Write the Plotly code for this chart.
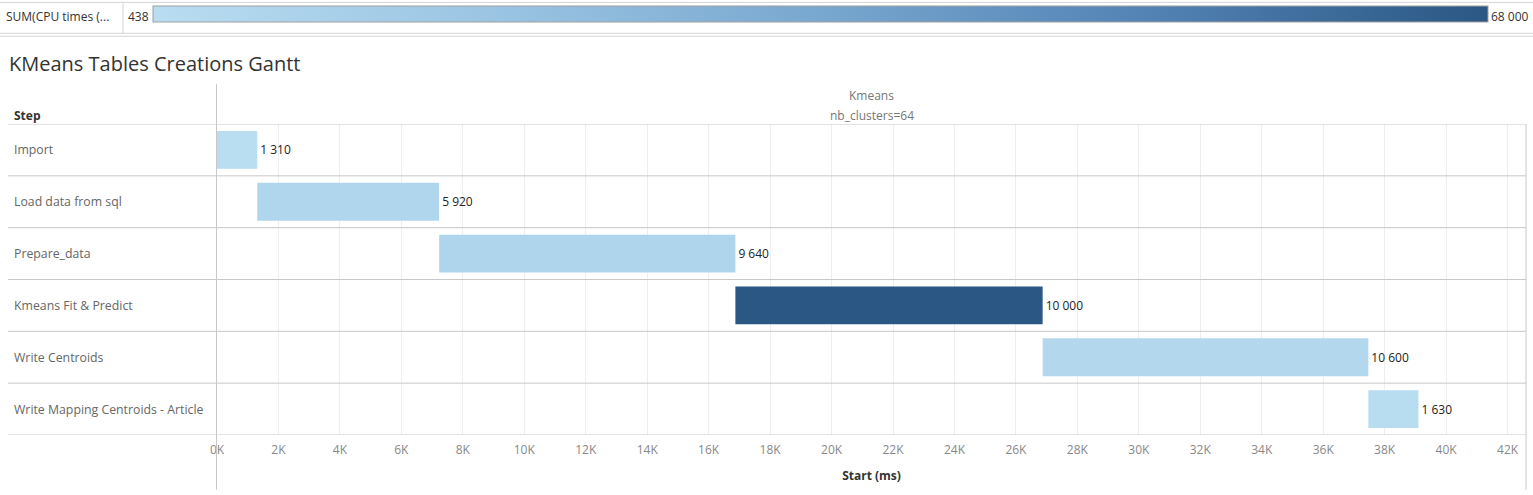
import plotly.graph_objects as go

steps = ["Import", "Load data from sql", "Prepare_data", "Kmeans Fit & Predict",
         "Write Centroids", "Write Mapping Centroids - Article"]
start_ms = [0, 1310, 7230, 16870, 26870, 37470]
duration_ms = [1310, 5920, 9640, 10000, 10600, 1630]
cpu_times = [438, 5600, 5800, 68000, 3900, 1100]
cpu_min, cpu_max = 438, 68000
tick_vals = list(range(0, 42001, 2000))
tick_text = [f"{v // 1000}K" for v in tick_vals]

W, H = 1533, 495
L, R, T, B = 217, 1526, 123, 435
PW, PH = R - L, B - T

def px(x):
    return (x - L) / PW

def py(y):
    return (B - y) / PH

def fmt(v):
    return f"{v:,}".replace(",", " ")

FONT = "Open Sans"
scale = [[0.0, "#b9ddf1"], [0.25, "#9bc5e3"], [0.5, "#78a7cf"], [0.75, "#5282b4"], [1.0, "#2a5783"]]

fig = go.Figure()
fig.add_trace(go.Bar(
    y=steps, x=duration_ms, base=start_ms, orientation="h", width=0.73,
    marker=dict(color=cpu_times, colorscale=scale, cmin=cpu_min, cmax=cpu_max, line=dict(width=0),
                showscale=True,
                colorbar=dict(orientation="h", x=px(153), xanchor="left", y=py(6), yanchor="top",
                              lenmode="pixels", len=1335, thickness=16, xpad=0, ypad=0,
                              showticklabels=False, ticks="", outlinecolor="#a0a0a0", outlinewidth=1,
                              borderwidth=0)),
    text=[fmt(d) for d in duration_ms], textposition="outside", cliponaxis=False,
    textfont=dict(family=FONT, size=12, color="#222"), hoverinfo="skip",
))

shapes = []
shapes.append(dict(type="rect", xref="paper", yref="paper", x0=px(0), x1=px(W), y0=py(32), y1=py(2),
                   fillcolor="#ffffff", line=dict(width=0), layer="below"))
for yy in (1, 32, 35):
    shapes.append(dict(type="line", xref="paper", yref="paper", x0=px(0), x1=px(W), y0=py(yy), y1=py(yy),
                       line=dict(color="#d4d4d4", width=1)))
shapes.append(dict(type="line", xref="paper", yref="paper", x0=px(123), x1=px(123), y0=py(32), y1=py(2),
                   line=dict(color="#d4d4d4", width=1)))
for k in range(len(steps) + 1):
    shapes.append(dict(type="line", xref="paper", yref="y", x0=px(8), x1=1.0, y0=k - 0.5, y1=k - 0.5,
                       line=dict(color="#c8c8c8", width=1)))
shapes.append(dict(type="line", xref="paper", yref="paper", x0=px(216.5), x1=px(216.5), y0=py(490), y1=py(83),
                   line=dict(color="#c8c8c8", width=1)))
shapes.append(dict(type="line", xref="paper", yref="paper", x0=1.0, x1=1.0, y0=py(490), y1=py(123),
                   line=dict(color="#c8c8c8", width=1)))

ann = []
ann.append(dict(text="SUM(CPU times (...", x=px(4), y=py(15), xanchor="left", yanchor="middle",
                font=dict(family=FONT, size=12, color="#333")))
ann.append(dict(text=fmt(cpu_min), x=px(126), y=py(15), xanchor="left", yanchor="middle",
                font=dict(family=FONT, size=12, color="#333")))
ann.append(dict(text=fmt(cpu_max), x=px(1489), y=py(15), xanchor="left", yanchor="middle",
                font=dict(family=FONT, size=12, color="#333")))
ann.append(dict(text="KMeans Tables Creations Gantt", x=px(7), y=py(62), xanchor="left", yanchor="middle",
                font=dict(family=FONT, size=20, color="#333")))
ann.append(dict(text="<b>Step</b>", x=px(12), y=py(114), xanchor="left", yanchor="middle",
                font=dict(family=FONT, size=12, color="#333")))
ann.append(dict(text="Kmeans", x=0.5, y=py(94), xanchor="center", yanchor="middle",
                font=dict(family=FONT, size=12, color="#777")))
ann.append(dict(text="nb_clusters=64", x=0.5, y=py(114), xanchor="center", yanchor="middle",
                font=dict(family=FONT, size=12, color="#777")))
for s in steps:
    ann.append(dict(text=s, x=px(12), xref="paper", y=s, yref="y", xanchor="left", yanchor="middle",
                    font=dict(family=FONT, size=12.3, color="#666")))
for a in ann:
    a.setdefault("xref", "paper")
    a.setdefault("yref", "paper")
    a["showarrow"] = False

fig.update_layout(
    width=W, height=H, margin=dict(l=L, r=W - R, t=T, b=H - B),
    paper_bgcolor="white", plot_bgcolor="white", showlegend=False,
    font=dict(family=FONT, size=12, color="#333"),
    shapes=shapes, annotations=ann, bargap=0.27,
    xaxis=dict(range=[0, 42600], tickvals=tick_vals, ticktext=tick_text, showgrid=True,
               gridcolor="#eeeeee", gridwidth=1, zeroline=False, showline=False, ticks="",
               tickfont=dict(family=FONT, size=12, color="#888"), ticklabelstandoff=6,
               title=dict(text="<b>Start (ms)</b>", font=dict(family=FONT, size=12, color="#333"), standoff=14),
               fixedrange=True),
    yaxis=dict(categoryorder="array", categoryarray=steps, range=[5.5, -0.5], showticklabels=False,
               showgrid=False, zeroline=False, showline=False, ticks="", fixedrange=True),
)

fig.write_html("out.html")
